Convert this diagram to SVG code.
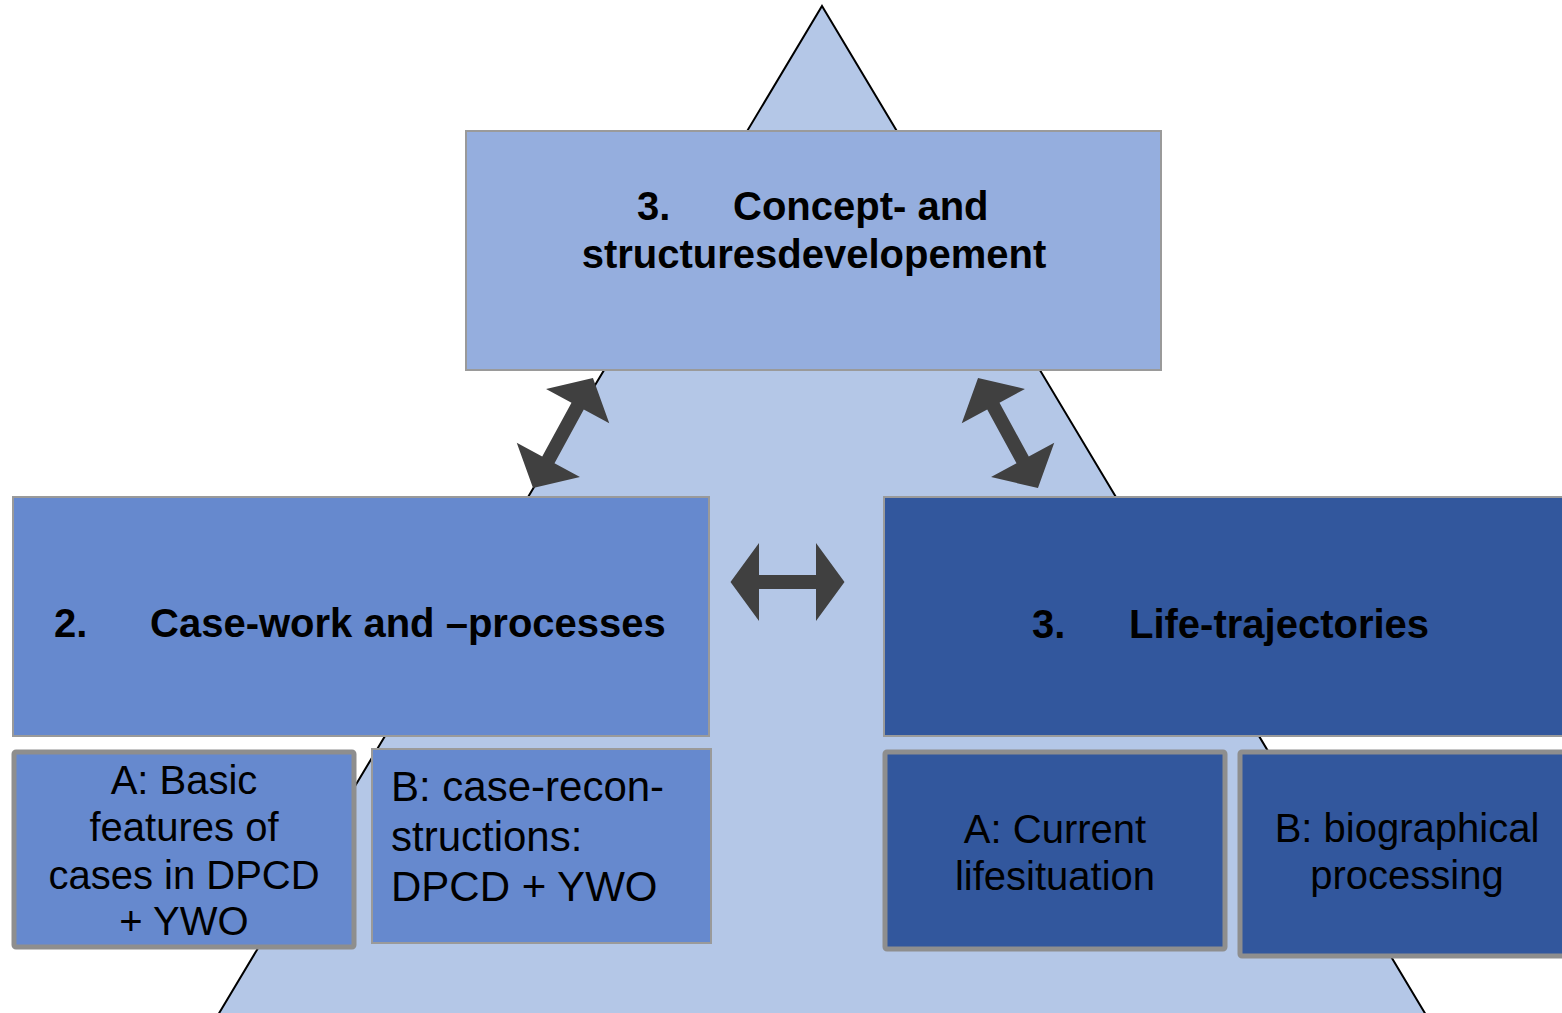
<svg xmlns="http://www.w3.org/2000/svg" width="1562" height="1013" viewBox="0 0 1562 1013">
<style>
  .tri { fill: #B4C7E7; stroke: #000; stroke-width: 2; }
  .top { fill: #95AEDE; stroke: #9A9A9A; stroke-width: 2; }
  .mid { fill: #6689CE; stroke: #9A9A9A; stroke-width: 2; }
  .dark { fill: #32579D; stroke: #9A9A9A; stroke-width: 2; }
  .thick { stroke: #8E8E8E; stroke-width: 5; }
  .arrow { fill: #404040; stroke: none; }
  text { font-family: "Liberation Sans", Arial, sans-serif; fill: #000; }
  .h { font-size: 40px; font-weight: bold; }
  .s { font-size: 40px; }
  .sb { font-size: 42px; }
  .c { text-anchor: middle; }
</style>
<defs>
  <polygon id="dbl-diag" points="-62.6,0 -30.6,-36 -30.6,-7 30.6,-7 30.6,-36 62.6,0 30.6,36 30.6,7 -30.6,7 -30.6,36"/>
</defs>
<rect width="1562" height="1013" fill="#FFFFFF"/>
<g id="pyramid">
  <polygon class="tri" points="822,6 1429,1020 215,1020"/>
</g>
<g id="node-top">
  <rect class="top" x="466" y="131" width="695" height="239"/>
  <text class="h" x="637" y="220">3.</text>
  <text class="h" x="733" y="220">Concept- and</text>
  <text class="h c" x="814" y="268">structuresdevelopement</text>
</g>
<g id="node-casework">
  <rect class="mid" x="13" y="497" width="696" height="239"/>
  <text class="h" x="54" y="637">2.</text>
  <text class="h" x="150" y="637">Case-work and –processes</text>
</g>
<g id="node-life">
  <rect class="dark" x="884" y="497" width="690" height="239"/>
  <text class="h" x="1032" y="638">3.</text>
  <text class="h" x="1129" y="638">Life-trajectories</text>
</g>
<g id="node-2a">
  <rect class="mid thick" x="14" y="752" width="340" height="195" rx="2"/>
  <text class="s c" x="184" y="794">A: Basic</text>
  <text class="s c" x="184" y="841">features of</text>
  <text class="s c" x="184" y="889">cases in DPCD</text>
  <text class="s c" x="184" y="935">+ YWO</text>
</g>
<g id="node-2b">
  <rect class="mid" x="372" y="749" width="339" height="194"/>
  <text class="sb" x="391" y="801">B: case-recon-</text>
  <text class="sb" x="391" y="851">structions:</text>
  <text class="sb" x="391" y="901">DPCD + YWO</text>
</g>
<g id="node-3a">
  <rect class="dark thick" x="885" y="752" width="340" height="197" rx="2"/>
  <text class="s c" x="1055" y="843">A: Current</text>
  <text class="s c" x="1055" y="890">lifesituation</text>
</g>
<g id="node-3b">
  <rect class="dark thick" x="1240" y="752" width="340" height="204" rx="2"/>
  <text class="s c" x="1407" y="842">B: biographical</text>
  <text class="s c" x="1407" y="889">processing</text>
</g>
<g id="connectors">
  <use href="#dbl-diag" class="arrow" transform="translate(563,433) rotate(-61.4)"/>
  <use href="#dbl-diag" class="arrow" transform="translate(1008,433) rotate(61.4)"/>
  <polygon class="arrow" points="730.5,582 759,543 759,575 816,575 816,543 844.5,582 816,621 816,589 759,589 759,621"/>
</g>
</svg>
